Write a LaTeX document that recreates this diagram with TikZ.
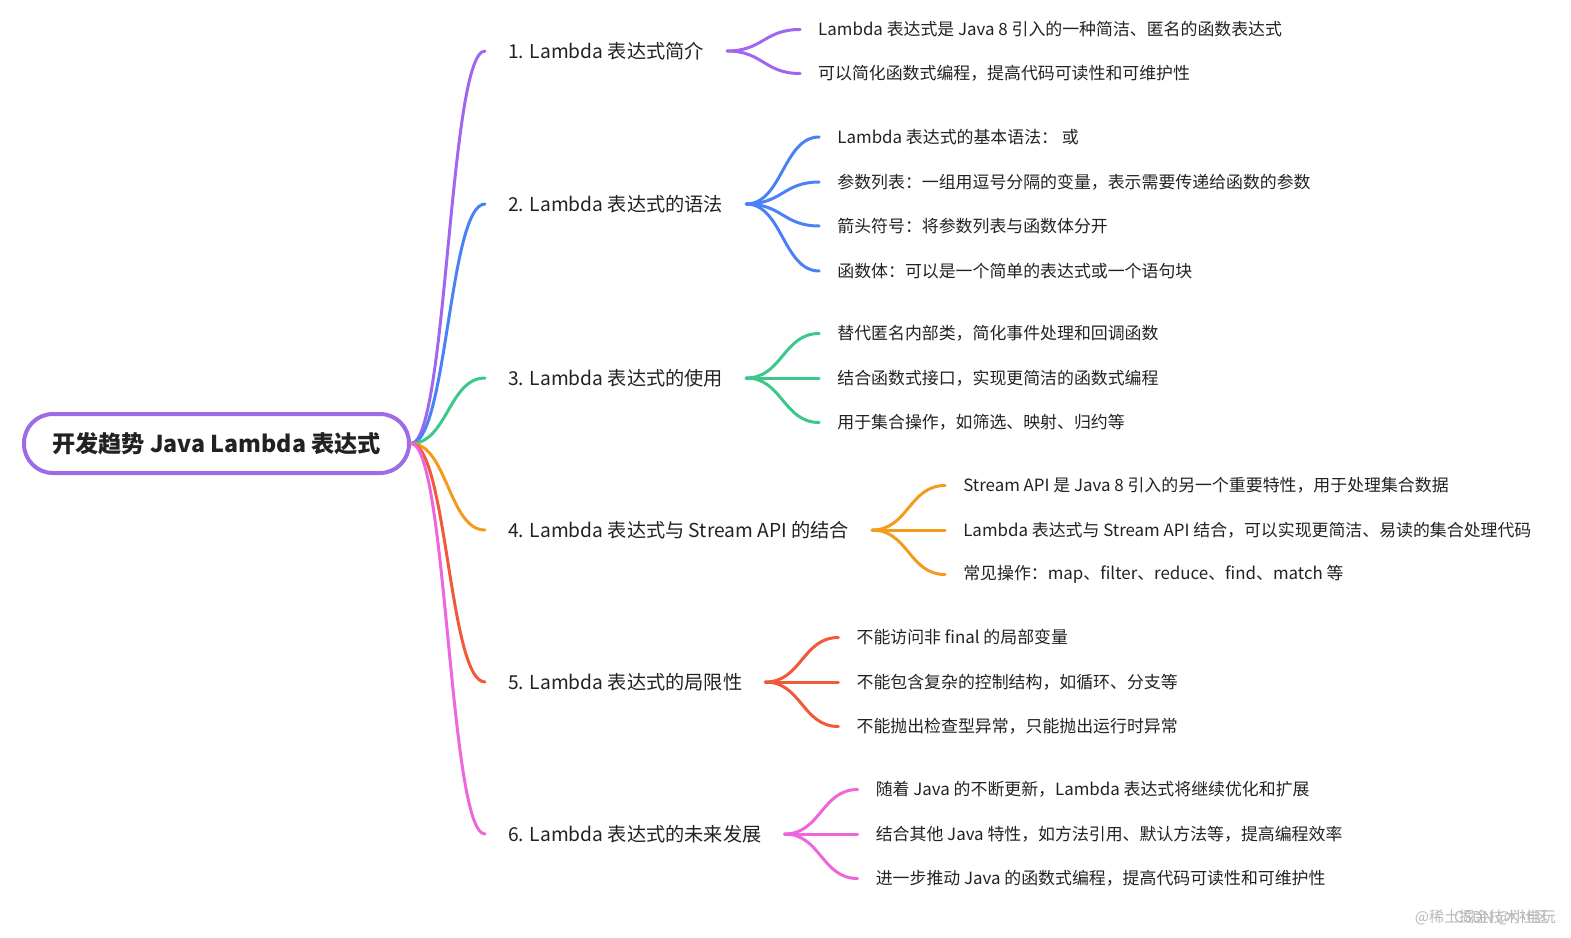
\documentclass[tikz,border=0pt]{standalone}
\usepackage{fontspec}
\setmainfont{Noto Sans CJK SC}
\usepackage{tikz}
\usepackage{xcolor}
\usetikzlibrary{arrows.meta, positioning, calc}
\definecolor{rootpurple}{HTML}{9E6BE6}
\definecolor{branchpurple}{HTML}{A066F0}
\definecolor{branchblue}{HTML}{4A82F5}
\definecolor{branchgreen}{HTML}{3CC88C}
\definecolor{branchorange}{HTML}{F29B1D}
\definecolor{branchred}{HTML}{F2583A}
\definecolor{branchpink}{HTML}{EE66DC}
\definecolor{inkblack}{HTML}{222222}

\begin{document}
\begin{tikzpicture}[
    x=1pt, y=-1pt,
    root/.style={draw=rootpurple, line width=4pt, rounded corners=29pt, minimum width=385pt, minimum height=59pt, fill=white, text=inkblack, font=\fontsize{23.2}{27}\selectfont\bfseries},
    topic/.style={anchor=west, inner xsep=23pt, inner ysep=2pt, text=inkblack, font=\fontsize{19.2}{23}\selectfont},
    leaf/.style={inner xsep=18pt, inner ysep=2pt, text=inkblack, font=\fontsize{16.9}{20}\selectfont},
    link/.style={draw=#1, line width=3pt, line cap=round},
    watermark/.style={text=gray!55, font=\fontsize{15}{18}\selectfont}
]
\useasboundingbox (0,0) rectangle (1571,937);

% Root
\node[root] (root) at (216.5,443.5) {开发趋势 Java Lambda 表达式};

% Topics
\node[topic] (b1) at (485,51) {1. Lambda 表达式简介};
\node[topic] (b2) at (485,204) {2. Lambda 表达式的语法};
\node[topic] (b3) at (485,378) {3. Lambda 表达式的使用};
\node[topic] (b4) at (485,530) {4. Lambda 表达式与 Stream API 的结合};
\node[topic] (b5) at (485,682) {5. Lambda 表达式的局限性};
\node[topic] (b6) at (485,834) {6. Lambda 表达式的未来发展};

% Branch 1
\node[leaf, right=73pt of b1, yshift=21.5pt] (l11) {Lambda 表达式是 Java 8 引入的一种简洁、匿名的函数表达式};
\node[leaf, right=73pt of b1, yshift=-22.5pt] (l12) {可以简化函数式编程，提高代码可读性和可维护性};

% Branch 2
\node[leaf, right=73pt of b2, yshift=67pt] (l21) {Lambda 表达式的基本语法：  或};
\node[leaf, right=73pt of b2, yshift=22pt] (l22) {参数列表：一组用逗号分隔的变量，表示需要传递给函数的参数};
\node[leaf, right=73pt of b2, yshift=-22pt] (l23) {箭头符号：将参数列表与函数体分开};
\node[leaf, right=73pt of b2, yshift=-67pt] (l24) {函数体：可以是一个简单的表达式或一个语句块};

% Branch 3
\node[leaf, right=73pt of b3, yshift=44.5pt] (l31) {替代匿名内部类，简化事件处理和回调函数};
\node[leaf, right=73pt of b3] (l32) {结合函数式接口，实现更简洁的函数式编程};
\node[leaf, right=73pt of b3, yshift=-44.5pt] (l33) {用于集合操作，如筛选、映射、归约等};

% Branch 4
\node[leaf, right=73pt of b4, yshift=44.5pt] (l41) {Stream API 是 Java 8 引入的另一个重要特性，用于处理集合数据};
\node[leaf, right=73pt of b4] (l42) {Lambda 表达式与 Stream API 结合，可以实现更简洁、易读的集合处理代码};
\node[leaf, right=73pt of b4, yshift=-44.5pt] (l43) {常见操作：map、filter、reduce、find、match 等};

% Branch 5
\node[leaf, right=73pt of b5, yshift=44.5pt] (l51) {不能访问非 final 的局部变量};
\node[leaf, right=73pt of b5] (l52) {不能包含复杂的控制结构，如循环、分支等};
\node[leaf, right=73pt of b5, yshift=-44.5pt] (l53) {不能抛出检查型异常，只能抛出运行时异常};

% Branch 6
\node[leaf, right=73pt of b6, yshift=44.5pt] (l61) {随着 Java 的不断更新，Lambda 表达式将继续优化和扩展};
\node[leaf, right=73pt of b6] (l62) {结合其他 Java 特性，如方法引用、默认方法等，提高编程效率};
\node[leaf, right=73pt of b6, yshift=-44.5pt] (l63) {进一步推动 Java 的函数式编程，提高代码可读性和可维护性};

% Watermark
\node[watermark] (mark1) at (1482,917) {@稀土掘金技术社区};
\node[watermark] (mark2) at (1505,917) {CSDN @小电玩};

% Root links
\draw[link=branchpurple] (root.east) .. controls +(36,0) and +(-36,0) .. (b1.west);
\draw[link=branchblue] (root.east) .. controls +(36,0) and +(-36,0) .. (b2.west);
\draw[link=branchgreen] (root.east) .. controls +(36,0) and +(-36,0) .. (b3.west);
\draw[link=branchorange] (root.east) .. controls +(36,0) and +(-36,0) .. (b4.west);
\draw[link=branchred] (root.east) .. controls +(36,0) and +(-36,0) .. (b5.west);
\draw[link=branchpink] (root.east) .. controls +(36,0) and +(-36,0) .. (b6.west);

% Leaf links
\draw[link=branchpurple] (b1.east) .. controls +(36,0) and +(-36,0) .. (l11.west);
\draw[link=branchpurple] (b1.east) .. controls +(36,0) and +(-36,0) .. (l12.west);
\draw[link=branchblue] (b2.east) .. controls +(36,0) and +(-36,0) .. (l21.west);
\draw[link=branchblue] (b2.east) .. controls +(36,0) and +(-36,0) .. (l22.west);
\draw[link=branchblue] (b2.east) .. controls +(36,0) and +(-36,0) .. (l23.west);
\draw[link=branchblue] (b2.east) .. controls +(36,0) and +(-36,0) .. (l24.west);
\draw[link=branchgreen] (b3.east) .. controls +(36,0) and +(-36,0) .. (l31.west);
\draw[link=branchgreen] (b3.east) -- (l32.west);
\draw[link=branchgreen] (b3.east) .. controls +(36,0) and +(-36,0) .. (l33.west);
\draw[link=branchorange] (b4.east) .. controls +(36,0) and +(-36,0) .. (l41.west);
\draw[link=branchorange] (b4.east) -- (l42.west);
\draw[link=branchorange] (b4.east) .. controls +(36,0) and +(-36,0) .. (l43.west);
\draw[link=branchred] (b5.east) .. controls +(36,0) and +(-36,0) .. (l51.west);
\draw[link=branchred] (b5.east) -- (l52.west);
\draw[link=branchred] (b5.east) .. controls +(36,0) and +(-36,0) .. (l53.west);
\draw[link=branchpink] (b6.east) .. controls +(36,0) and +(-36,0) .. (l61.west);
\draw[link=branchpink] (b6.east) -- (l62.west);
\draw[link=branchpink] (b6.east) .. controls +(36,0) and +(-36,0) .. (l63.west);

\end{tikzpicture}
\end{document}
